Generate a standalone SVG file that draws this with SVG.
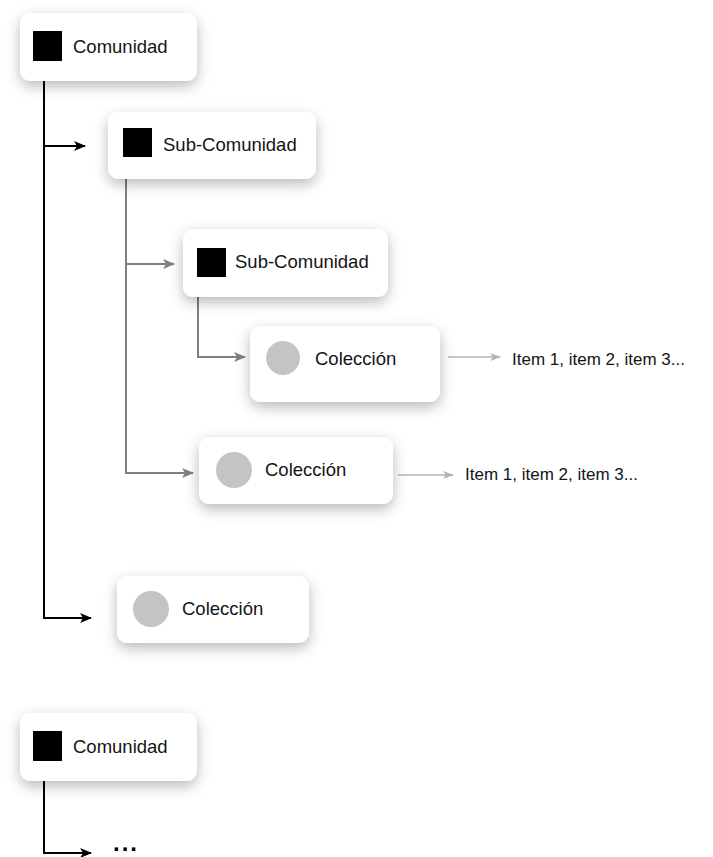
<svg xmlns="http://www.w3.org/2000/svg" width="713" height="857" viewBox="0 0 713 857">
<style>
.box{fill:#fff;filter:url(#sh)}
.lbl{font-family:"Liberation Sans",Arial,sans-serif;font-size:18.5px;fill:#141414}
.itm{font-family:"Liberation Sans",Arial,sans-serif;font-size:17px;fill:#141414}
.sq{fill:#000}
.ci{fill:#c4c4c4}
.k{fill:none;stroke:#000;stroke-width:2}
.g{fill:none;stroke:#7f7f7f;stroke-width:2}
.l{fill:none;stroke:#b3b3b3;stroke-width:1.5}
</style>
<defs>
<filter id="sh" x="-30%" y="-40%" width="160%" height="200%">
<feDropShadow dx="0" dy="5" stdDeviation="7" flood-color="#000" flood-opacity="0.28"/>
</filter>
<marker id="ak" markerUnits="userSpaceOnUse" markerWidth="12" markerHeight="10" refX="11" refY="5" orient="auto"><path d="M0,0 L12,5 L0,10 L3,5 z" fill="#000"/></marker>
<marker id="ag" markerUnits="userSpaceOnUse" markerWidth="12" markerHeight="10" refX="11" refY="5" orient="auto"><path d="M0,0 L12,5 L0,10 L3,5 z" fill="#7f7f7f"/></marker>
<marker id="al" markerUnits="userSpaceOnUse" markerWidth="11" markerHeight="8" refX="10" refY="4" orient="auto"><path d="M0,0 L11,4 L0,8 L3,4 z" fill="#b3b3b3"/></marker>
</defs>
<rect width="713" height="857" fill="#fff"/>
<g id="connectors">
<path class="k" d="M44,80 V618 H91" marker-end="url(#ak)"/>
<path class="k" d="M44,146 H85" marker-end="url(#ak)"/>
<path class="k" d="M44,780 V853 H91" marker-end="url(#ak)"/>
<path class="g" d="M126,179 V473 H193" marker-end="url(#ag)"/>
<path class="g" d="M126,264 H174" marker-end="url(#ag)"/>
<path class="g" d="M198,297 V357 H245" marker-end="url(#ag)"/>
<path class="l" d="M448,357 H500" marker-end="url(#al)"/>
<path class="l" d="M398,475 H453" marker-end="url(#al)"/>
</g>
<g id="n1"><rect class="box" x="20" y="13" width="177" height="68" rx="11"/><rect class="sq" x="33" y="31" width="29" height="30"/><text class="lbl" x="73" y="53">Comunidad</text></g>
<g id="n2"><rect class="box" x="108" y="112" width="208" height="67" rx="11"/><rect class="sq" x="123" y="128" width="29" height="29"/><text class="lbl" x="163" y="151">Sub-Comunidad</text></g>
<g id="n3"><rect class="box" x="183" y="229" width="205" height="68" rx="11"/><rect class="sq" x="197" y="248" width="29" height="29"/><text class="lbl" x="235" y="268">Sub-Comunidad</text></g>
<g id="n4"><rect class="box" x="250" y="326" width="190" height="76" rx="11"/><circle class="ci" cx="283" cy="358" r="17"/><text class="lbl" x="315" y="365">Colección</text></g>
<g id="n5"><rect class="box" x="199" y="437" width="194" height="67" rx="11"/><circle class="ci" cx="234" cy="470" r="18"/><text class="lbl" x="265" y="476">Colección</text></g>
<g id="n6"><rect class="box" x="117" y="576" width="192" height="67" rx="11"/><circle class="ci" cx="151" cy="609" r="18"/><text class="lbl" x="182" y="615">Colección</text></g>
<g id="n7"><rect class="box" x="20" y="713" width="177" height="68" rx="11"/><rect class="sq" x="33" y="731" width="29" height="30"/><text class="lbl" x="73" y="753">Comunidad</text></g>
<g id="items1"><text class="itm" x="512" y="365">Item 1, item 2, item 3...</text></g>
<g id="items2"><text class="itm" x="465" y="480">Item 1, item 2, item 3...</text></g>
<g id="more"><text x="113" y="851" font-family="Liberation Sans, Arial, sans-serif" font-weight="bold" font-size="24" letter-spacing="2" fill="#000">...</text></g>
</svg>
